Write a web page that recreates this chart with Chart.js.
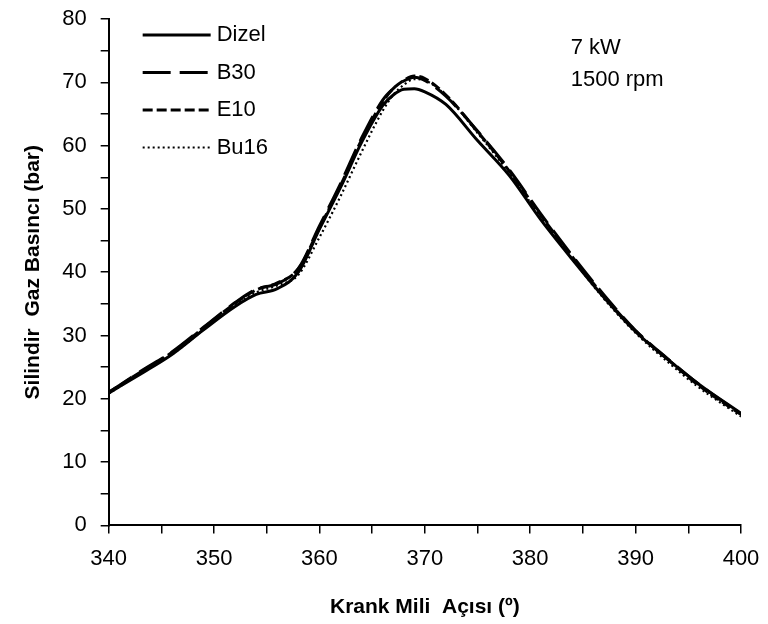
<!DOCTYPE html>
<html>
<head>
<meta charset="utf-8">
<script src="https://cdn.jsdelivr.net/npm/chart.js@4.4.0/dist/chart.umd.min.js"></script>
<style>
  html, body { margin: 0; padding: 0; background: #fff; }
  #wrap { width: 768px; height: 624px; }
</style>
</head>
<body>
<div id="wrap"><canvas id="pressureChart" width="768" height="624"></canvas></div>
<script>
// crank angle (deg)
const angles = [340, 343, 346, 349, 352, 354, 356, 358, 360, 362, 364, 366, 367, 368, 369, 370, 372, 375, 378, 381, 384, 387, 390, 393, 396, 400];

// cylinder gas pressure (bar)
const dizel = [20.9, 23.9, 27.0, 30.9, 34.6, 36.5, 37.4, 40.0, 46.8, 53.4, 60.5, 66.3, 68.0, 68.9, 69.0, 68.5, 66.5, 60.8, 55.3, 48.3, 42.0, 36.0, 30.6, 26.3, 22.3, 17.7];
const b30   = [21.0, 24.3, 27.4, 31.3, 35.2, 37.3, 38.2, 40.6, 47.3, 54.0, 61.2, 67.2, 69.0, 70.2, 70.8, 70.3, 67.8, 62.3, 56.2, 49.2, 42.6, 36.4, 30.8, 26.4, 22.3, 17.6];
const e10   = [21.0, 24.2, 27.3, 31.2, 35.1, 37.2, 38.3, 40.5, 47.0, 53.7, 60.9, 66.9, 69.0, 70.3, 71.0, 70.6, 68.0, 62.2, 56.0, 49.0, 42.4, 36.2, 30.7, 26.3, 22.1, 17.5];
const bu16  = [20.8, 24.0, 27.0, 30.9, 34.8, 36.8, 37.9, 39.6, 45.5, 52.0, 59.0, 65.5, 68.0, 69.6, 70.5, 70.3, 67.9, 62.0, 55.7, 48.7, 42.1, 35.8, 30.4, 25.9, 21.8, 17.2];

const seriesNames = ['Dizel', 'B30', 'E10', 'Bu16'];
const xTicks = [340, 350, 360, 370, 380, 390, 400];
const yTicks = [0, 10, 20, 30, 40, 50, 60, 70, 80];
const noteLines = ['7 kW', '1500 rpm'];

const FONT = 'Arial, "Liberation Sans", sans-serif';

function pts(vals) {
    return angles.map((a, i) => ({ x: a, y: vals[i] }));
}

const styles = [
    { borderWidth: 3, borderDash: [] },
    { borderWidth: 3, borderDash: [28, 9] },
    { borderWidth: 3, borderDash: [10, 4] },
    { borderWidth: 2.2, borderDash: [2, 3] },
];

const data = {
    datasets: [dizel, b30, e10, bu16].map((v, i) => ({
        label: seriesNames[i],
        data: pts(v),
        borderColor: '#000',
        backgroundColor: '#000',
        borderWidth: styles[i].borderWidth,
        borderDash: styles[i].borderDash,
        pointRadius: 0,
        cubicInterpolationMode: 'monotone',
        fill: false,
    })),
};

// legend drawn inside the plot, top-left, like the original
const insideLegend = {
    id: 'insideLegend',
    afterDatasetsDraw(chart) {
        const ctx = chart.ctx;
        const area = chart.chartArea;
        ctx.save();
        ctx.font = '22px ' + FONT;
        ctx.textBaseline = 'middle';
        ctx.fillStyle = '#000';
        chart.data.datasets.forEach((ds, i) => {
            const y = area.top + 16 + i * 37.5;
            const x0 = area.left + 34;
            ctx.beginPath();
            ctx.strokeStyle = '#000';
            ctx.lineWidth = ds.borderWidth;
            ctx.setLineDash(ds.borderDash);
            ctx.moveTo(x0, y);
            ctx.lineTo(x0 + 68, y);
            ctx.stroke();
            ctx.setLineDash([]);
            ctx.fillText(ds.label, x0 + 74, y);
        });
        noteLines.forEach((t, i) => {
            ctx.fillText(t, area.left + 462, area.top + 29 + i * 32);
        });
        ctx.restore();
    }
};

const options = {
    responsive: false,
    animation: false,
    layout: { padding: { left: 21, right: 0, top: 0, bottom: 4 } },
    plugins: {
        legend: { display: false },
        tooltip: { enabled: false },
    },
    scales: {
        x: {
            type: 'linear',
            min: 340,
            max: 400,
            afterFit: (scale) => { scale.paddingRight = 27; },
            grid: {
                drawOnChartArea: false,
                drawTicks: true,
                tickLength: 8,
                color: '#000',
                lineWidth: 1.5,
            },
            border: { color: '#000', width: 2 },
            ticks: {
                stepSize: 5,
                autoSkip: false,
                maxRotation: 0,
                color: '#000',
                font: { family: FONT, size: 22 },
                padding: 12,
                callback: (v) => (xTicks.includes(v) ? String(v) : ''),
            },
            title: {
                display: true,
                text: 'Krank Mili  Açısı (º)',
                color: '#000',
                font: { family: FONT, size: 21, weight: 'bold' },
                padding: { top: 11, bottom: 0 },
            },
        },
        y: {
            min: 0,
            max: 80,
            afterFit: (scale) => { scale.paddingTop = 19; },
            grid: {
                drawOnChartArea: false,
                drawTicks: true,
                tickLength: 8,
                color: '#000',
                lineWidth: 1.5,
            },
            border: { color: '#000', width: 2 },
            ticks: {
                stepSize: 5,
                autoSkip: false,
                color: '#000',
                font: { family: FONT, size: 22 },
                padding: 14,
                callback: (v) => (yTicks.includes(v) ? String(v) : ''),
            },
            title: {
                display: true,
                text: 'Silindir  Gaz Basıncı (bar)',
                color: '#000',
                font: { family: FONT, size: 21, weight: 'bold' },
                padding: { top: 0, bottom: 2 },
            },
        },
    },
};

new Chart(document.getElementById('pressureChart').getContext('2d'), {
    type: 'line',
    data: data,
    options: options,
    plugins: [insideLegend],
});
</script>
</body>
</html>
